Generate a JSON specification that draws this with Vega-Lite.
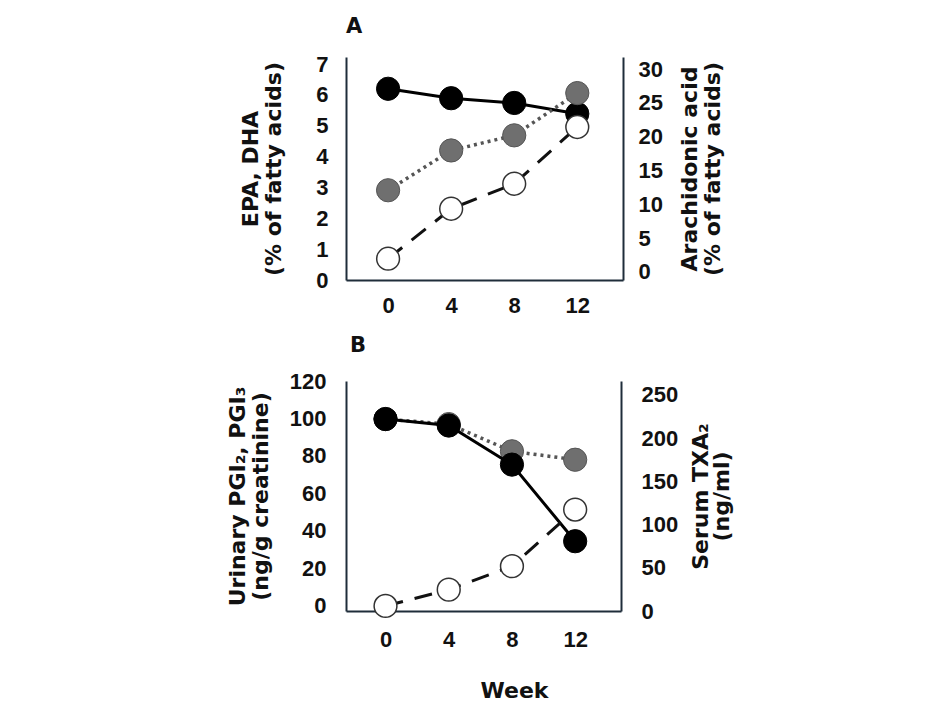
{
  "$schema": "https://vega.github.io/schema/vega-lite/v6.json",
  "background": "white",
  "padding": {"left": 226, "top": 16, "right": 10, "bottom": 10},
  "spacing": 101,
  "bounds": "flush",
  "config": {
    "view": {"stroke": null},
    "axis": {
      "grid": false,
      "ticks": false,
      "tickSize": 0,
      "domainColor": "#1f2d3a",
      "domainWidth": 2,
      "labelFont": "Liberation Sans",
      "labelFontWeight": "bold",
      "labelFontSize": 22,
      "labelColor": "#111111",
      "titleFont": "DejaVu Sans",
      "titleFontWeight": "bold",
      "titleFontSize": 22,
      "titleColor": "#111111",
      "titleLineHeight": 23
    },
    "title": {"font": "DejaVu Sans", "fontWeight": "bold", "fontSize": 21, "color": "#111111", "anchor": "start", "frame": "group"}
  },
  "datasets": {
    "A": [
      {"series": "AA", "week": 0, "value": 27.1},
      {"series": "AA", "week": 4, "value": 25.7},
      {"series": "AA", "week": 8, "value": 25.0},
      {"series": "AA", "week": 12, "value": 23.4},
      {"series": "DHA", "week": 0, "value": 2.91},
      {"series": "DHA", "week": 4, "value": 4.2},
      {"series": "DHA", "week": 8, "value": 4.69},
      {"series": "DHA", "week": 12, "value": 6.06},
      {"series": "EPA", "week": 0, "value": 0.69},
      {"series": "EPA", "week": 4, "value": 2.31},
      {"series": "EPA", "week": 8, "value": 3.12},
      {"series": "EPA", "week": 12, "value": 4.96}
    ],
    "B": [
      {"series": "TXA2", "week": 0, "value": 222},
      {"series": "TXA2", "week": 4, "value": 214.5},
      {"series": "TXA2", "week": 8, "value": 169.3},
      {"series": "TXA2", "week": 12, "value": 80.7},
      {"series": "PGI2", "week": 0, "value": 99.7},
      {"series": "PGI2", "week": 4, "value": 97},
      {"series": "PGI2", "week": 8, "value": 82.5},
      {"series": "PGI2", "week": 12, "value": 78.0},
      {"series": "PGI3", "week": 0, "value": 0},
      {"series": "PGI3", "week": 4, "value": 8.7},
      {"series": "PGI3", "week": 8, "value": 21.2},
      {"series": "PGI3", "week": 12, "value": 51.4}
    ]
  },
  "vconcat": [
    {
      "width": 277,
      "height": 223,
      "title": {"text": "A", "offset": 16, "dx": 0},
      "data": {"name": "A"},
      "resolve": {"scale": {"y": "independent"}},
      "layer": [
        {
          "transform": [{"filter": "datum.series == 'AA'"}],
          "encoding": {
            "x": {"field": "week", "type": "quantitative", "scale": {"domain": [-2.67, 14.9], "nice": false, "zero": false}, "axis": {"values": [0, 4, 8, 12], "title": null, "labelPadding": 15}},
            "y": {"field": "value", "type": "quantitative", "scale": {"domain": [-1.2, 31.8], "nice": false, "zero": false}, "axis": {"orient": "right", "values": [0, 5, 10, 15, 20, 25, 30], "labelPadding": 15, "labelAlign": "left", "title": ["Arachidonic acid", "(% of fatty acids)"], "titleAngle": 270, "titleBaseline": "top", "titlePadding": -6}}
          },
          "layer": [
            {"mark": {"type": "line", "color": "#000000", "strokeWidth": 3}},
            {"mark": {"type": "point", "shape": "circle", "filled": true, "fill": "#000000", "stroke": "#000000", "strokeWidth": 1, "size": 540, "opacity": 1}}
          ]
        },
        {
          "transform": [{"filter": "datum.series == 'DHA'"}],
          "encoding": {
            "x": {"field": "week", "type": "quantitative", "scale": {"domain": [-2.67, 14.9], "nice": false, "zero": false}, "axis": {"values": [0, 4, 8, 12], "title": null, "labelPadding": 15}},
            "y": {"field": "value", "type": "quantitative", "scale": {"domain": [0, 7.23], "nice": false, "zero": false}, "axis": {"orient": "left", "values": [0, 1, 2, 3, 4, 5, 6, 7], "labelPadding": 18, "title": ["EPA, DHA", "(% of fatty acids)"], "titleAngle": 270, "titleBaseline": "bottom", "titlePadding": 30}}
          },
          "layer": [
            {"mark": {"type": "line", "color": "#555555", "strokeWidth": 3.5, "strokeDash": [3, 4]}},
            {"mark": {"type": "point", "shape": "circle", "filled": true, "fill": "#6f6f6f", "stroke": "#555555", "strokeWidth": 1, "size": 540, "opacity": 1}}
          ]
        },
        {
          "transform": [{"filter": "datum.series == 'EPA'"}],
          "encoding": {
            "x": {"field": "week", "type": "quantitative", "scale": {"domain": [-2.67, 14.9], "nice": false, "zero": false}, "axis": {"values": [0, 4, 8, 12], "title": null, "labelPadding": 15}},
            "y": {"field": "value", "type": "quantitative", "scale": {"domain": [0, 7.23], "nice": false, "zero": false}, "axis": null}
          },
          "layer": [
            {"mark": {"type": "line", "color": "#111111", "strokeWidth": 3, "strokeDash": [18, 12]}},
            {"mark": {"type": "point", "shape": "circle", "filled": true, "fill": "#ffffff", "stroke": "#333333", "strokeWidth": 1.5, "size": 520, "opacity": 1}}
          ]
        }
      ]
    },
    {
      "width": 275,
      "height": 230,
      "title": {"text": "B", "offset": 14, "dx": 4},
      "data": {"name": "B"},
      "resolve": {"scale": {"y": "independent"}},
      "layer": [
        {
          "transform": [{"filter": "datum.series == 'PGI2'"}],
          "encoding": {
            "x": {"field": "week", "type": "quantitative", "scale": {"domain": [-2.5, 14.9], "nice": false, "zero": false}, "axis": {"values": [0, 4, 8, 12], "title": "Week", "labelPadding": 18, "titleX": 168, "titleY": 79, "titleBaseline": "middle"}},
            "y": {"field": "value", "type": "quantitative", "scale": {"domain": [-2.7, 120], "nice": false, "zero": false}, "axis": {"orient": "left", "values": [0, 20, 40, 60, 80, 100, 120], "labelPadding": 20, "title": ["Urinary PGI₂, PGI₃", "(ng/g creatinine)"], "titleAngle": 270, "titleBaseline": "bottom", "titlePadding": 17}}
          },
          "layer": [
            {"mark": {"type": "line", "color": "#555555", "strokeWidth": 3.5, "strokeDash": [3, 4]}},
            {"mark": {"type": "point", "shape": "circle", "filled": true, "fill": "#6f6f6f", "stroke": "#555555", "strokeWidth": 1, "size": 540, "opacity": 1}}
          ]
        },
        {
          "transform": [{"filter": "datum.series == 'TXA2'"}],
          "encoding": {
            "x": {"field": "week", "type": "quantitative", "scale": {"domain": [-2.5, 14.9], "nice": false, "zero": false}, "axis": {"values": [0, 4, 8, 12], "title": "Week", "labelPadding": 18, "titleX": 168, "titleY": 79, "titleBaseline": "middle"}},
            "y": {"field": "value", "type": "quantitative", "scale": {"domain": [0, 266], "nice": false, "zero": false}, "axis": {"orient": "right", "values": [0, 50, 100, 150, 200, 250], "labelPadding": 20, "labelAlign": "left", "title": ["Serum TXA₂", "(ng/ml)"], "titleAngle": 270, "titleBaseline": "top", "titlePadding": -8, "titleLineHeight": 21}}
          },
          "layer": [
            {"mark": {"type": "line", "color": "#000000", "strokeWidth": 3}},
            {"mark": {"type": "point", "shape": "circle", "filled": true, "fill": "#000000", "stroke": "#000000", "strokeWidth": 1, "size": 540, "opacity": 1}}
          ]
        },
        {
          "transform": [{"filter": "datum.series == 'PGI3'"}],
          "encoding": {
            "x": {"field": "week", "type": "quantitative", "scale": {"domain": [-2.5, 14.9], "nice": false, "zero": false}, "axis": {"values": [0, 4, 8, 12], "title": "Week", "labelPadding": 18, "titleX": 168, "titleY": 79, "titleBaseline": "middle"}},
            "y": {"field": "value", "type": "quantitative", "scale": {"domain": [-2.7, 120], "nice": false, "zero": false}, "axis": null}
          },
          "layer": [
            {"mark": {"type": "line", "color": "#111111", "strokeWidth": 3, "strokeDash": [18, 12]}},
            {"mark": {"type": "point", "shape": "circle", "filled": true, "fill": "#ffffff", "stroke": "#333333", "strokeWidth": 1.5, "size": 520, "opacity": 1}}
          ]
        }
      ]
    }
  ]
}
